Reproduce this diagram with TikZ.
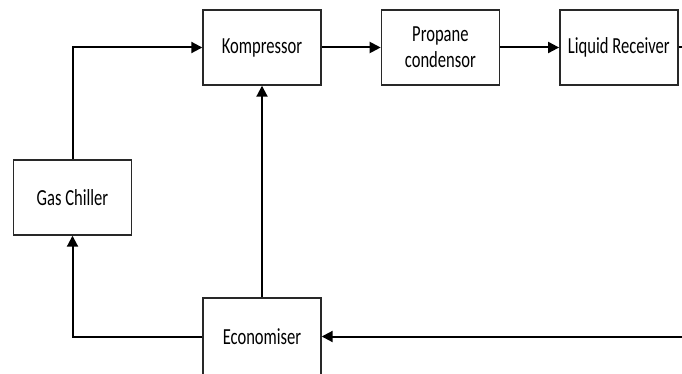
\documentclass[tikz,border=0pt]{standalone}
\usepackage{fontspec}
\setmainfont[FakeStretch=0.72]{Carlito}
\usepackage{tikz}
\usetikzlibrary{arrows, shapes, positioning, arrows.meta, calc}
\definecolor{boxline}{RGB}{40,40,40}
\tikzstyle{block} = [draw=boxline, line width=1.4pt, fill=white, minimum width=118pt, minimum height=75pt, inner sep=0pt, align=center, font=\fontsize{23}{26}\selectfont]
\tikzstyle{arrow} = [line width=2pt,->,>={Triangle[length=11pt,width=11pt]}]

\begin{document}
\begin{tikzpicture}[x=1pt, y=-1pt]
            \useasboundingbox (0,0) rectangle (682,374);
            % top row
            \node[block] (komp) at (262,47.5) {Kompressor};
            \node[block, right=59pt of komp] (cond) {Propane\\condensor};
            \node[block, right=59pt of cond] (recv) {Liquid Receiver};
            % left and bottom
            \node[block] (chill) at (72.5,197.5) {Gas Chiller};
            \node[block, minimum height=77pt] (econ) at (262,336.5) {Economiser};
            \coordinate (outR) at (682,47.5);
            \coordinate (inR) at (682,336.5);

            \draw[arrow] (komp) -- (cond);
            \draw[arrow] (cond) -- (recv);
            \draw[line width=2pt] (recv.east) -- (outR);
            \draw[arrow] (inR) -- (econ.east);
            \draw[arrow] (econ.west) -| (chill.south);
            \draw[arrow] (chill.north) |- (komp.west);
            \draw[arrow] (econ.north) -- (komp.south);
        \end{tikzpicture}
\end{document}
